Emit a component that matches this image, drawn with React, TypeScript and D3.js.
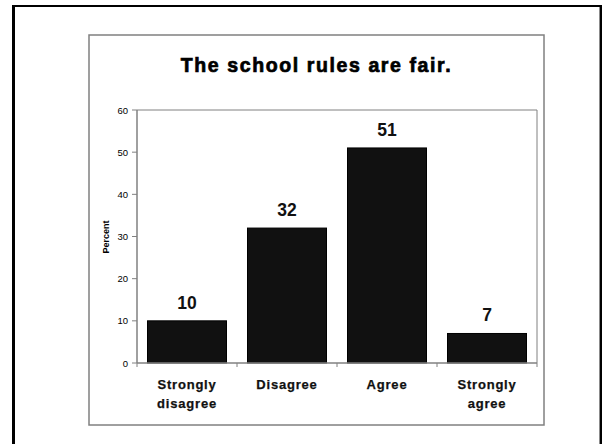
import React from "react";
import * as d3 from "d3";

const categories: string[][] = [
  ["Strongly", "disagree"],
  ["Disagree"],
  ["Agree"],
  ["Strongly", "agree"],
];
const percents: number[] = [10, 32, 51, 7];
const yTicks: number[] = [0, 10, 20, 30, 40, 50, 60];
const title = "The school rules are fair.";
const yLabel = "Percent";

const W = 602;
const H = 444;
const FONT = "'Liberation Sans', Arial, sans-serif";

export default function App() {
  const plot = { left: 137, right: 537, top: 110, bottom: 363 };
  const keys = categories.map((c) => c.join(" "));
  const x = d3
    .scaleBand<string>()
    .domain(keys)
    .range([plot.left, plot.right])
    .paddingInner(0.21)
    .paddingOuter(0.105);
  const y = d3.scaleLinear().domain([0, 60]).range([plot.bottom, plot.top]);
  const step = x.step();
  const boundaries = d3.range(keys.length + 1).map((i) => plot.left + i * step);

  return (
    <svg
      width={W}
      height={H}
      style={{ position: "absolute", left: 0, top: 0, background: "#fff" }}
      fontFamily={FONT}
    >
      <rect x={0} y={0} width={W} height={H} fill="#fff" />
      {/* slide frame, open at the bottom */}
      <line x1={13.5} x2={13.5} y1={5} y2={H + 2} stroke="#000" strokeWidth={3} />
      <line x1={12} x2={602} y1={6} y2={6} stroke="#000" strokeWidth={2} />
      <line x1={600.8} x2={600.8} y1={5} y2={H + 2} stroke="#000" strokeWidth={2.5} />

      <rect x={89} y={35} width={455} height={390} fill="none" stroke="#808080" strokeWidth={1.5} />
      <text
        x={316.5}
        y={72}
        textAnchor="middle"
        fontSize={19.5}
        fontWeight="bold"
        letterSpacing={1.6}
        fill="#000"
        stroke="#000"
        strokeWidth={0.7}
      >
        {title}
      </text>

      {/* plot frame: top and right edges */}
      <path
        d={`M${plot.left},${plot.top}H${plot.right}V${plot.bottom}`}
        fill="none"
        stroke="#808080"
        strokeWidth={1}
      />

      {/* bars */}
      {percents.map((v, i) => (
        <g key={keys[i]}>
          <rect
            x={x(keys[i])}
            y={y(v)}
            width={x.bandwidth()}
            height={y(0) - y(v)}
            fill="#111"
            stroke="#000"
            strokeWidth={1}
          />
          <text
            x={(x(keys[i]) as number) + x.bandwidth() / 2}
            y={y(v) - 12}
            textAnchor="middle"
            fontSize={17.5}
            fontWeight="bold"
            fill="#111"
          >
            {v}
          </text>
        </g>
      ))}

      {/* y axis */}
      <line x1={plot.left} x2={plot.left} y1={plot.top} y2={plot.bottom} stroke="#808080" strokeWidth={1.5} />
      {yTicks.map((t) => (
        <g key={t}>
          <line x1={plot.left - 5} x2={plot.left} y1={y(t)} y2={y(t)} stroke="#808080" strokeWidth={1} />
          <text x={plot.left - 9} y={y(t) + 3.5} textAnchor="end" fontSize={9.5} fill="#000">
            {t}
          </text>
        </g>
      ))}
      <text
        transform={`translate(${109},${237}) rotate(-90)`}
        textAnchor="middle"
        fontSize={9}
        fontWeight="bold"
        fill="#000"
      >
        {yLabel}
      </text>

      {/* x axis */}
      <line x1={plot.left} x2={plot.right} y1={plot.bottom} y2={plot.bottom} stroke="#808080" strokeWidth={1.5} />
      {boundaries.map((bx, i) => (
        <line key={i} x1={bx} x2={bx} y1={plot.bottom} y2={plot.bottom + 4} stroke="#808080" strokeWidth={1} />
      ))}
      {categories.map((lines, i) => (
        <text
          key={keys[i]}
          x={(x(keys[i]) as number) + x.bandwidth() / 2}
          y={389}
          textAnchor="middle"
          fontSize={13}
          fontWeight="bold"
          letterSpacing={0.8}
          fill="#111"
          stroke="#111"
          strokeWidth={0.25}
        >
          {lines.map((l, j) => (
            <tspan key={j} x={(x(keys[i]) as number) + x.bandwidth() / 2} dy={j === 0 ? 0 : 19}>
              {l}
            </tspan>
          ))}
        </text>
      ))}
    </svg>
  );
}
